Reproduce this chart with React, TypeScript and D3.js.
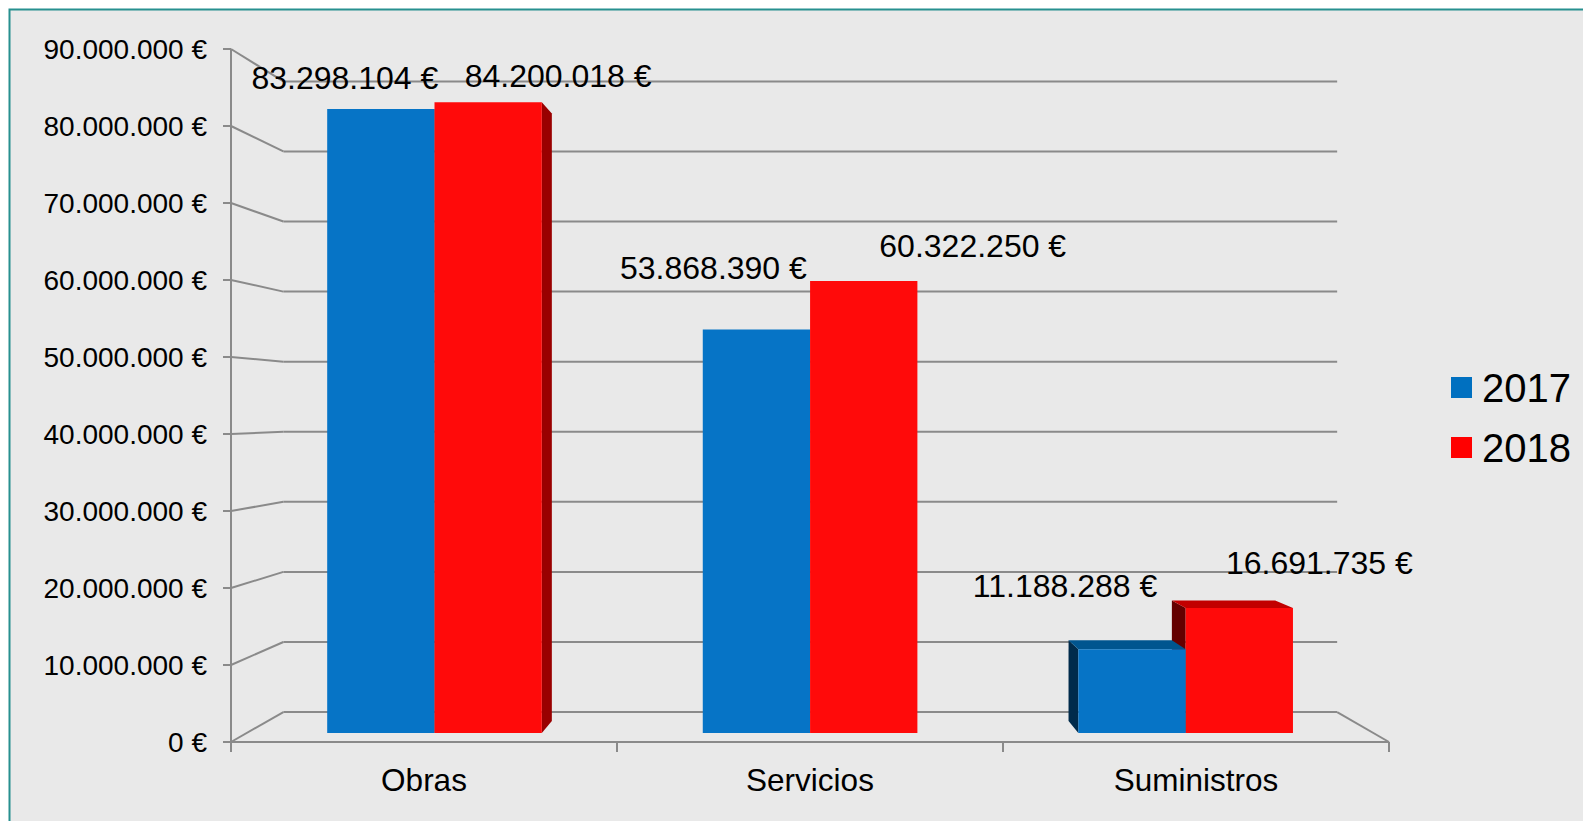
import { useEffect, useRef } from "react";
import * as d3 from "d3";

const W = 1583;
const H = 821;

// data
const categories = ["Obras", "Servicios", "Suministros"];
const seriesNames = ["2017", "2018"];
const values2017 = [83298104, 53868390, 11188288];
const values2018 = [84200018, 60322250, 16691735];
const yMax = 90000000;

// colours per series: front, top, left side, right side, legend
const frontColors = ["#0674c6", "#ff0a0a"];
const topColors = ["#00558f", "#c20000"];
const leftColors = ["#002b4b", "#640000"];
const rightColors = ["#00406e", "#990000"];
const legendColors = ["#0070c0", "#ff0000"];

// hand-placed data labels (offset from top-front centre of the bar)
const labelNudge = [
  [[-36, -31], [70, -26]],
  [[-43, -62], [109, -35]],
  [[-67, -63], [80, -45]],
];

// front plane + simple perspective towards a vanishing point
const FRONT = { left: 231, right: 1389, top: 49, bottom: 742 };
const VX = 813;
const VY = 409;
const SHRINK = 0.09; // scale lost from front (t=0) to back wall (t=1)
const BAR_T0 = 0.3;
const BAR_T1 = 0.7;
const FONT = "'Liberation Sans', Arial, Helvetica, sans-serif";

const proj = (X: number, Y: number, t: number): [number, number] => {
  const s = 1 - SHRINK * t;
  return [VX + (X - VX) * s, VY + (Y - VY) * s];
};

const loc = d3.formatLocale({ decimal: ",", thousands: ".", grouping: [3], currency: ["", " €"] });
const fmt = (v: number) => loc.format(",.0f")(v) + " €";

export default function App() {
  const svgRef = useRef<SVGSVGElement>(null);

  useEffect(() => {
    if (!svgRef.current) return;
    const root = d3.select(svgRef.current);
    root.selectAll("*").remove();

    // frame
    root
      .append("rect")
      .attr("x", 9.5)
      .attr("y", 9.5)
      .attr("width", W + 100)
      .attr("height", H + 100)
      .attr("fill", "#e9e9e9")
      .attr("stroke", "#27908f")
      .attr("stroke-width", 2);

    const x = d3.scaleBand<string>().domain(categories).range([FRONT.left, FRONT.right]);
    const y = d3.scaleLinear().domain([0, yMax]).range([FRONT.bottom, FRONT.top]);
    const ticks = y.ticks(9);
    const grid = "#8a8a8a";

    const g = root.append("g").attr("fill", "none").attr("stroke", grid).attr("stroke-width", 2);
    const line = (a: [number, number], b: [number, number]) =>
      g.append("line").attr("x1", a[0]).attr("y1", a[1]).attr("x2", b[0]).attr("y2", b[1]);

    // back wall gridlines + side wall diagonals
    ticks.forEach((v) => {
      line(proj(FRONT.left, y(v), 0), proj(FRONT.left, y(v), 1));
      line(proj(FRONT.left, y(v), 1), proj(FRONT.right, y(v), 1));
    });
    // floor
    line(proj(FRONT.right, y(0), 1), proj(FRONT.right, y(0), 0));
    line([FRONT.left, y(0)], [FRONT.right, y(0)]);
    // value axis
    line([FRONT.left, FRONT.top], [FRONT.left, FRONT.bottom + 10]);
    ticks.forEach((v) => line([FRONT.left - 8, y(v)], [FRONT.left, y(v)]));
    // category ticks
    [...categories.map((c) => x(c)!), FRONT.right].forEach((px) =>
      line([px, FRONT.bottom], [px, FRONT.bottom + 10])
    );

    // tick labels
    root
      .append("g")
      .selectAll("text")
      .data(ticks)
      .join("text")
      .attr("x", 207)
      .attr("y", (d) => y(d))
      .attr("dy", "0.35em")
      .attr("text-anchor", "end")
      .attr("font-family", FONT)
      .attr("font-size", 28)
      .attr("fill", "#000")
      .text((d) => fmt(d));

    root
      .append("g")
      .selectAll("text")
      .data(categories)
      .join("text")
      .attr("x", (d) => x(d)! + x.bandwidth() / 2)
      .attr("y", 791)
      .attr("text-anchor", "middle")
      .attr("font-family", FONT)
      .attr("font-size", 31.5)
      .attr("fill", "#000")
      .text((d) => d);

    // bars (gap width 150%)
    const bw = x.bandwidth() / 3.5;
    const allValues = [values2017, values2018];
    const bars: { ci: number; si: number; x0: number; x1: number; v: number }[] = [];
    categories.forEach((c, ci) => {
      const start = x(c)! + (x.bandwidth() - 2 * bw) / 2;
      allValues.forEach((vals, si) => {
        bars.push({ ci, si, x0: start + si * bw, x1: start + (si + 1) * bw, v: vals[ci] });
      });
    });
    bars.sort((a, b) => Math.abs((b.x0 + b.x1) / 2 - VX) - Math.abs((a.x0 + a.x1) / 2 - VX));

    const bg = root.append("g");
    const poly = (pts: [number, number][], fill: string) =>
      bg.append("polygon").attr("points", pts.map((p) => p.join(",")).join(" ")).attr("fill", fill);

    bars.forEach((b) => {
      const Y0 = y(0);
      const Y1 = y(b.v);
      if (b.x0 > VX)
        poly(
          [proj(b.x0, Y1, BAR_T0), proj(b.x0, Y1, BAR_T1), proj(b.x0, Y0, BAR_T1), proj(b.x0, Y0, BAR_T0)],
          leftColors[b.si]
        );
      if (b.x1 < VX)
        poly(
          [proj(b.x1, Y1, BAR_T0), proj(b.x1, Y1, BAR_T1), proj(b.x1, Y0, BAR_T1), proj(b.x1, Y0, BAR_T0)],
          rightColors[b.si]
        );
      if (Y1 > VY)
        poly(
          [proj(b.x0, Y1, BAR_T0), proj(b.x1, Y1, BAR_T0), proj(b.x1, Y1, BAR_T1), proj(b.x0, Y1, BAR_T1)],
          topColors[b.si]
        );
      poly(
        [proj(b.x0, Y1, BAR_T0), proj(b.x1, Y1, BAR_T0), proj(b.x1, Y0, BAR_T0), proj(b.x0, Y0, BAR_T0)],
        frontColors[b.si]
      );
    });

    // data labels
    const lg = root.append("g");
    categories.forEach((c, ci) => {
      const start = x(c)! + (x.bandwidth() - 2 * bw) / 2;
      allValues.forEach((vals, si) => {
        const [ax, ay] = proj(start + (si + 0.5) * bw, y(vals[ci]), BAR_T0);
        const [dx, dy] = labelNudge[ci][si];
        lg.append("text")
          .attr("x", ax + dx)
          .attr("y", ay + dy)
          .attr("dy", "0.35em")
          .attr("text-anchor", "middle")
          .attr("font-family", FONT)
          .attr("font-size", 32)
          .attr("fill", "#000")
          .text(fmt(vals[ci]));
      });
    });

    // legend
    const leg = root.append("g");
    seriesNames.forEach((s, i) => {
      const ly = 377 + i * 60;
      leg.append("rect").attr("x", 1451).attr("y", ly).attr("width", 21).attr("height", 21).attr("fill", legendColors[i]);
      leg.append("text")
        .attr("x", 1482)
        .attr("y", ly + 25)
        .attr("font-family", FONT)
        .attr("font-size", 40)
        .attr("fill", "#000")
        .text(s);
    });
  }, []);

  return (
    <svg
      ref={svgRef}
      width={W}
      height={H}
      viewBox={`0 0 ${W} ${H}`}
      style={{ position: "absolute", left: 0, top: 0, background: "#fff" }}
    />
  );
}
